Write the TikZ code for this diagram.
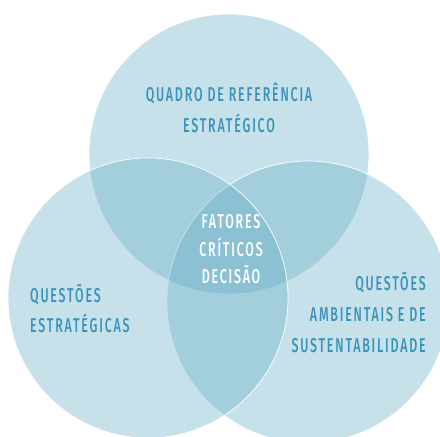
\documentclass[tikz,border=0pt]{standalone}
\usepackage{fontspec}
\setmainfont{Fira Sans}
\newfontfamily\lblfont[FakeStretch=0.62,LetterSpace=9,UprightFont={* Medium}]{Fira Sans}
\definecolor{circ}{HTML}{62ABC4}
\definecolor{txtc}{HTML}{3A93BA}
\begin{document}
\begin{tikzpicture}[x=1pt,y=-1pt,
  venn/.style={fill=circ,fill opacity=0.357,draw=white,draw opacity=1,line width=0.7pt},
  lab/.style={font=\lblfont\fontsize{20}{24}\selectfont,text=txtc,inner sep=0pt},
  inner/.style={lab,text=white}]
\useasboundingbox (0,0) rectangle (440,437);
\clip (0,0) rectangle (440,437);
\path[venn] (229,154) circle[radius=140pt];
\path[venn] (308,302) circle[radius=141pt];
\path[venn] (148,298) circle[radius=140pt];
% top circle
\node[lab,anchor=base] (t1) at (229,101) {QUADRO DE REFERÊNCIA};
\node[lab,anchor=base] (t2) at (229,132) {ESTRATÉGICO};
% centre
\node[inner,anchor=base] (c1) at (231,228) {FATORES};
\node[inner,anchor=base] (c2) at (231,256) {CRÍTICOS};
\node[inner,anchor=base] (c3) at (231,283) {DECISÃO};
% left
\node[lab,anchor=base west] (l1) at (30,302) {QUESTÕES};
\node[lab,anchor=base west] (l2) at (30,332) {ESTRATÉGICAS};
% right
\node[lab,anchor=base east] (r1) at (426,290) {QUESTÕES};
\node[lab,anchor=base east] (r2) at (426,321) {AMBIENTAIS E DE};
\node[lab,anchor=base east] (r3) at (426,352) {SUSTENTABILIDADE};
\end{tikzpicture}
\end{document}
